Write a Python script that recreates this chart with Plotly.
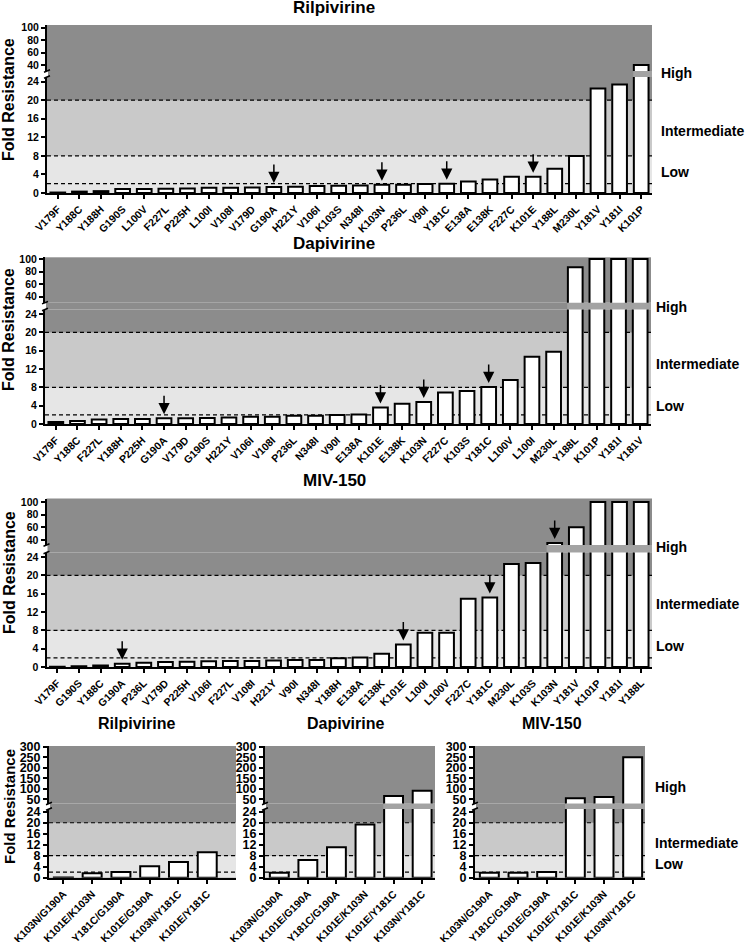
import plotly.graph_objects as go

# ---------------- data ----------------
rilpi_cats = ["V179F", "Y188C", "Y188H", "G190S", "L100V", "F227L", "P225H", "L100I", "V108I", "V179D",
              "G190A", "H221Y", "V106I", "K103S", "N348I", "K103N", "P236L", "V90I", "Y181C", "E138A",
              "E138K", "F227C", "K101E", "Y188L", "M230L", "Y181V", "Y181I", "K101P"]
rilpi_vals = [0.1, 0.3, 0.4, 0.85, 0.85, 0.9, 0.95, 1.15, 1.15, 1.2,
              1.3, 1.35, 1.5, 1.55, 1.6, 1.8, 1.8, 1.95, 2.0, 2.5,
              2.9, 3.5, 3.5, 5.2, 7.95, 22.5, 23.4, 40]
rilpi_arrows = ["G190A", "K103N", "Y181C", "K101E"]

dapi_cats = ["V179F", "Y188C", "F227L", "Y188H", "P225H", "G190A", "V179D", "G190S", "H221Y", "V106I",
             "V108I", "P236L", "N348I", "V90I", "E138A", "K101E", "E138K", "K103N", "F227C", "K103S",
             "Y181C", "L100V", "L100I", "M230L", "Y188L", "K101P", "Y181I", "Y181V"]
dapi_vals = [0.45, 0.65, 1.0, 1.1, 1.1, 1.25, 1.25, 1.3, 1.4, 1.6,
             1.6, 1.8, 1.8, 1.95, 2.1, 3.6, 4.4, 4.8, 6.9, 7.2,
             8.1, 9.6, 14.7, 15.8, 87, 100, 100, 100]
dapi_arrows = ["G190A", "K101E", "K103N", "Y181C"]

miv_cats = ["V179F", "G190S", "Y188C", "G190A", "P236L", "V179D", "P225H", "V106I", "F227L", "V108I",
            "H221Y", "V90I", "N348I", "Y188H", "E138A", "E138K", "K101E", "L100I", "L100V", "F227C",
            "Y181C", "M230L", "K103S", "K103N", "Y181V", "K101P", "Y181I", "Y188L"]
miv_vals = [0.05, 0.15, 0.35, 0.7, 0.95, 1.1, 1.15, 1.25, 1.3, 1.3,
            1.4, 1.55, 1.55, 1.9, 2.1, 2.9, 4.9, 7.5, 7.5, 14.9,
            15.2, 22.5, 22.7, 35, 60, 100, 100, 100]
miv_arrows = ["G190A", "K101E", "Y181C", "K103N"]

combo_rilpi_cats = ["K103N/G190A", "K101E/K103N", "Y181C/G190A", "K101E/G190A", "K103N/Y181C", "K101E/Y181C"]
combo_rilpi_vals = [0.05, 1.6, 2.1, 4.2, 5.7, 9.3]
combo_dapi_cats = ["K103N/G190A", "K101E/G190A", "Y181C/G190A", "K101E/K103N", "K101E/Y181C", "K103N/Y181C"]
combo_dapi_vals = [1.8, 6.4, 11.1, 19.4, 66, 91]
combo_miv_cats = ["K103N/G190A", "Y181C/G190A", "K101E/G190A", "K101E/Y181C", "K101E/K103N", "K103N/Y181C"]
combo_miv_vals = [1.8, 1.8, 2.1, 55, 61, 250]

thresholds = [2, 8, 20]
zone_labels = ["High", "Intermediate", "Low"]
low_ticks_main = [0, 4, 8, 12, 16, 20, 24]
up_ticks_main = [40, 60, 80, 100]
up_ticks_combo = [50, 100, 150, 200, 250, 300]

# ---------------- styling / layout ----------------
W, H = 746, 942
DARK = "#8c8c8c"
LIGHT = "#c9c9c9"
STIP = "#e6e6e6"
BAND = "#a3a3a3"
FONT = "Liberation Sans"


def fx(p):
    return p / W


def fy(p):
    return 1 - p / H


panels = [
    dict(cats=rilpi_cats, vals=rilpi_vals, arrows=rilpi_arrows, title="Rilpivirine", title_xy=(334, 8),
         xdom=(47, 652), xright=None, low=(193, 77, 25), up=(71, 25, 30.5, 104.5), upticks=up_ticks_main,
         bw=0.68, xfont=10.5, yfont=10.5, axt=(9, 100, 16), right=(659, [73, 131, 172])),
    dict(cats=dapi_cats, vals=dapi_vals, arrows=dapi_arrows, title="Dapivirine", title_xy=(334, 243),
         xdom=(45, 651), xright=None, low=(424, 309.5, 25), up=(302.7, 257.3, 30.4, 102.7), upticks=up_ticks_main,
         bw=0.68, xfont=10.5, yfont=10.5, axt=(9, 330, 16), right=(654, [306.7, 364, 405.7])),
    dict(cats=miv_cats, vals=miv_vals, arrows=miv_arrows, title="MIV-150", title_xy=(334, 480),
         xdom=(46.5, 652), xright=None, low=(667, 552.5, 25), up=(545, 498.5, 32, 105.5), upticks=up_ticks_main,
         bw=0.68, xfont=10.5, yfont=10.5, axt=(9, 573, 16), right=(654, [547, 604, 646])),
    dict(cats=combo_rilpi_cats, vals=combo_rilpi_vals, arrows=[], title="Rilpivirine", title_xy=(136, 723),
         xdom=(49, 236), xright=6.0, low=(877.7, 809, 25), up=(803.5, 746, 30, 303), upticks=up_ticks_combo,
         bw=0.66, xfont=10.5, yfont=12.5, axt=(9, 807, 15), right=None),
    dict(cats=combo_dapi_cats, vals=combo_dapi_vals, arrows=[], title="Dapivirine", title_xy=(345, 723),
         xdom=(265, 435), xright=5.45, low=(877.7, 809, 25), up=(803.5, 746, 30, 303), upticks=up_ticks_combo,
         bw=0.66, xfont=10.5, yfont=12.5, axt=None, right=None),
    dict(cats=combo_miv_cats, vals=combo_miv_vals, arrows=[], title="MIV-150", title_xy=(552, 723),
         xdom=(475, 645), xright=5.43, low=(877.7, 809, 25), up=(803.5, 746, 30, 303), upticks=up_ticks_combo,
         bw=0.66, xfont=10.5, yfont=12.5, axt=None, right=(653, [787, 843, 864])),
]

fig = go.Figure()
layout = dict(width=W, height=H, margin=dict(l=0, r=0, t=0, b=0, autoexpand=False), paper_bgcolor="white",
              plot_bgcolor=DARK, showlegend=False, font=dict(family=FONT, color="black"))
shapes = []
annotations = []

for i, p in enumerate(panels):
    xn = "x" if i == 0 else f"x{i + 1}"
    yl = f"y{2 * i + 1}" if i > 0 else "y"
    yu = f"y{2 * i + 2}"
    xkey = "xaxis" if i == 0 else f"xaxis{i + 1}"
    ylkey = "yaxis" if i == 0 else f"yaxis{2 * i + 1}"
    yukey = f"yaxis{2 * i + 2}"
    n = len(p["cats"])
    xr = p["xright"] if p["xright"] is not None else n - 0.5
    lb, lt, lmax = p["low"]
    ub, ut, ulo, uhi = p["up"]
    bold = dict(family=FONT, weight="bold", color="black")

    layout[xkey] = dict(domain=[fx(p["xdom"][0]), fx(p["xdom"][1])], anchor=yl, type="category",
                        range=[-0.5, xr], tickangle=-45, showline=True, linewidth=2, linecolor="black",
                        ticks="outside", ticklen=4, tickwidth=1.5, tickcolor="black", showgrid=False,
                        tickfont=dict(bold, size=p["xfont"]), fixedrange=True, automargin=False)
    common_y = dict(anchor=xn, showline=True, linewidth=2, linecolor="black", ticks="outside", ticklen=4,
                    tickwidth=2, tickcolor="black", showgrid=False, zeroline=False, automargin=False,
                    tickfont=dict(bold, size=p["yfont"]), fixedrange=True)
    layout[ylkey] = dict(common_y, domain=[fy(lb), fy(lt)], range=[0, lmax], tickvals=low_ticks_main)
    layout[yukey] = dict(common_y, domain=[fy(ub), fy(ut)], range=[ulo, uhi], tickvals=p["upticks"])

    for ya in (yl, yu):
        fig.add_trace(go.Bar(x=p["cats"], y=p["vals"], xaxis=xn, yaxis=ya, width=p["bw"],
                             marker=dict(color="white", line=dict(color="black", width=2)),
                             hoverinfo="skip"))

    # background zones on lower axis
    shapes.append(dict(type="rect", xref=f"{xn} domain", yref=yl, x0=0, x1=1, y0=0, y1=thresholds[1],
                       fillcolor=STIP, line=dict(width=0), layer="below"))
    shapes.append(dict(type="rect", xref=f"{xn} domain", yref=yl, x0=0, x1=1, y0=thresholds[1], y1=thresholds[2],
                       fillcolor=LIGHT, line=dict(width=0), layer="below"))
    for t in thresholds:
        shapes.append(dict(type="line", xref=f"{xn} domain", yref=yl, x0=0, x1=1, y0=t, y1=t,
                           line=dict(color="black", width=1.2, dash="4px,3px"), layer="below"))
    # the axis break gap
    shapes.append(dict(type="rect", xref="paper", yref="paper", x0=fx(p["xdom"][0] + 1), x1=fx(p["xdom"][1]),
                       y0=fy(lt), y1=fy(ub), fillcolor=DARK, line=dict(width=0), layer="below"))
    cross = [k for k, v in enumerate(p["vals"]) if v > ulo]
    if cross:
        shapes.append(dict(type="rect", xref=xn, yref="paper", x0=cross[0] - p["bw"] / 2 - 0.03, x1=xr,
                           y0=fy(lt), y1=fy(ub), fillcolor=BAND, line=dict(width=0), layer="below"))
    # break marks on the y axis
    ax = p["xdom"][0]
    for yy in (ub, lt):
        shapes.append(dict(type="line", xref="paper", yref="paper", x0=fx(ax - 3), x1=fx(ax + 3),
                           y0=fy(yy + 1.2), y1=fy(yy - 1.2), line=dict(color="black", width=1.5), layer="above"))

    # arrows
    for a in p["arrows"]:
        v = p["vals"][p["cats"].index(a)]
        annotations.append(dict(x=a, y=v, xref=xn, yref=(yu if v > lmax else yl), text="", showarrow=True,
                                ax=0, ay=-24, arrowhead=2, arrowsize=1.5, arrowwidth=1.5, arrowcolor="black",
                                standoff=4))
    # title
    annotations.append(dict(x=fx(p["title_xy"][0]), y=fy(p["title_xy"][1]), xref="paper", yref="paper",
                            text=p["title"], showarrow=False, xanchor="center", yanchor="middle",
                            font=dict(bold, size=17 if i < 3 else 16)))
    if p["axt"]:
        annotations.append(dict(x=fx(p["axt"][0]), y=fy(p["axt"][1]), xref="paper", yref="paper",
                                text="Fold Resistance", textangle=-90, showarrow=False, xanchor="center",
                                yanchor="middle", font=dict(bold, size=p["axt"][2])))
    if p["right"]:
        rx, rys = p["right"]
        for lab, ry in zip(zone_labels, rys):
            annotations.append(dict(x=fx(rx), y=fy(ry), xref="paper", yref="paper", text=lab,
                                    showarrow=False, xanchor="left", yanchor="middle",
                                    font=dict(bold, size=14)))

layout["shapes"] = shapes
layout["annotations"] = annotations
fig.update_layout(**layout)
fig.write_html("out.html", config={"displayModeBar": False},
               post_script="document.body.style.margin='0px';document.body.style.padding='0px';"
                           "document.body.style.overflow='hidden';")
